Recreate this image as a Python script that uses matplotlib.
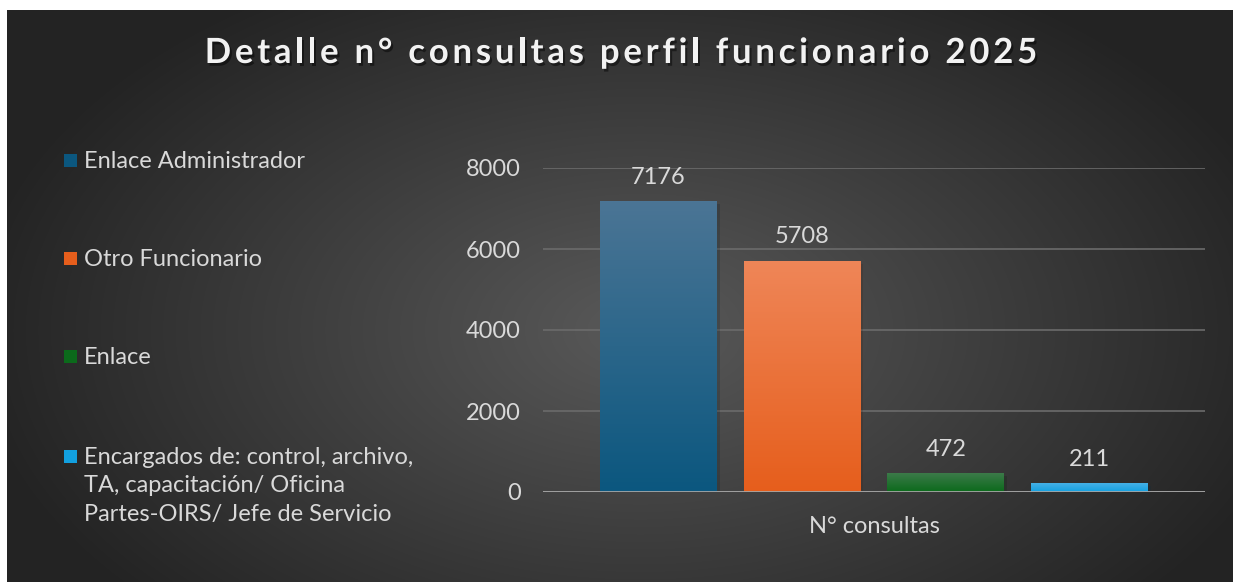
import numpy as np
import matplotlib
matplotlib.use("Agg")
import matplotlib.pyplot as plt
import matplotlib.patheffects as pe
from matplotlib.patches import Rectangle
from matplotlib.font_manager import FontProperties, findfont
from matplotlib.ft2font import FT2Font

# datos
categoria = "N° consultas"
perfiles = [
    "Enlace Administrador",
    "Otro Funcionario",
    "Enlace",
    "Encargados de: control, archivo,\nTA, capacitación/ Oficina\nPartes-OIRS/ Jefe de Servicio",
]
consultas = [7176, 5708, 472, 211]
colores_top = ["#4b7595", "#ef8658", "#3f7b4c", "#45b0e6"]
colores_bot = ["#0b577f", "#e65e1c", "#0b6a1b", "#12a0e0"]
titulo = "Detalle n° consultas perfil funcionario 2025"

plt.rcParams['font.family'] = ['Lato', 'DejaVu Sans']
txt = "#d9d9d9"
fs = 17

W, H = 1233, 582
fig = plt.figure(figsize=(W / 100, H / 100), dpi=100)
fig.patch.set_facecolor("white")

# fondo con degradado radial
bg = fig.add_axes([0, 0, 1, 1])
bg.set_xlim(0, W)
bg.set_ylim(H, 0)
bg.axis("off")
yy, xx = np.mgrid[10:H, 7:W]
r = np.sqrt(((xx - 640) / 700.0) ** 2 + ((yy - 330) / 420.0) ** 2)
g = np.clip(0.35 - 0.22 * r, 0.14, 0.35)
bg.imshow(np.dstack([g, g, g]), extent=(7, W, H, 10), aspect="auto", zorder=0)

# titulo con espaciado entre letras
tsize = 25
fp = FontProperties(family="Lato", weight="bold", size=tsize)
font = FT2Font(findfont(fp))
font.set_size(tsize, 100)
adv = []
for ch in titulo:
    gl = font.load_char(ord(ch))
    adv.append(gl.linearHoriAdvance / 65536)
esp = 3.75
total = sum(adv) + esp * (len(titulo) - 1)
x = 621 - total / 2
sombra = [pe.withSimplePatchShadow(offset=(1.5, -2), alpha=0.45, shadow_rgbFace="black")]
for ch, a in zip(titulo, adv):
    if ch != " ":
        bg.text(x, 53, ch, ha="left", va="center", fontproperties=fp,
                color="#f2f2f2", path_effects=sombra)
    x += a + esp

# leyenda manual
ys = [161, 259, 357, 457]
for lab, c1, c2, y in zip(perfiles, colores_top, colores_bot, ys):
    bg.add_patch(Rectangle((64, y - 7), 13, 13, facecolor=c2, edgecolor="none", zorder=2))
    bg.text(84, y - 10, lab, ha="left", va="top", fontsize=fs, color=txt,
            linespacing=1.43, zorder=3)

# grafico
ax = fig.add_axes([543 / W, 1 - 492 / H, (1205 - 543) / W, (492 - 168) / H])
ax.set_facecolor("none")
ax.set_xlim(-0.5, 0.5)
ax.set_ylim(0, 8000)
ax.set_yticks([0, 2000, 4000, 6000, 8000])
ax.set_xticks([0])
ax.set_xticklabels([categoria])
for s in ax.spines.values():
    s.set_visible(False)
ax.tick_params(axis="both", length=0, colors=txt, labelsize=fs)
ax.tick_params(axis="y", pad=16)
ax.tick_params(axis="x", pad=17)
ax.grid(axis="y", color="#6b6b6b", linewidth=1.2, zorder=0)
ax.set_axisbelow(True)
ax.axhline(0, color="#a6a6a6", linewidth=2, zorder=4)

ancho = 0.1767
paso = 0.217
pos = (np.arange(len(consultas)) - 1.5) * paso
barras = ax.bar(pos, consultas, width=ancho, color=colores_bot, zorder=2,
                path_effects=[pe.SimplePatchShadow(offset=(2, -2), alpha=0.18), pe.Normal()])
for b, c1, c2, v in zip(barras, colores_top, colores_bot, consultas):
    x0 = b.get_x()
    grad = np.linspace(0, 1, 256)[:, None]
    a = np.array(matplotlib.colors.to_rgb(c1))
    z = np.array(matplotlib.colors.to_rgb(c2))
    img = a[None, None, :] * (1 - grad[:, :, None]) + z[None, None, :] * grad[:, :, None]
    im = ax.imshow(img, extent=(x0, x0 + b.get_width(), 0, v), aspect="auto",
                   origin="upper", zorder=3)
    im.set_clip_path(b)
    ax.text(x0 + b.get_width() / 2, v + 330, str(v), ha="center", va="bottom",
            fontsize=fs, color=txt, zorder=5)
ax.set_xlim(-0.5, 0.5)
ax.set_ylim(0, 8000)

fig.savefig("out.png", dpi=100)
